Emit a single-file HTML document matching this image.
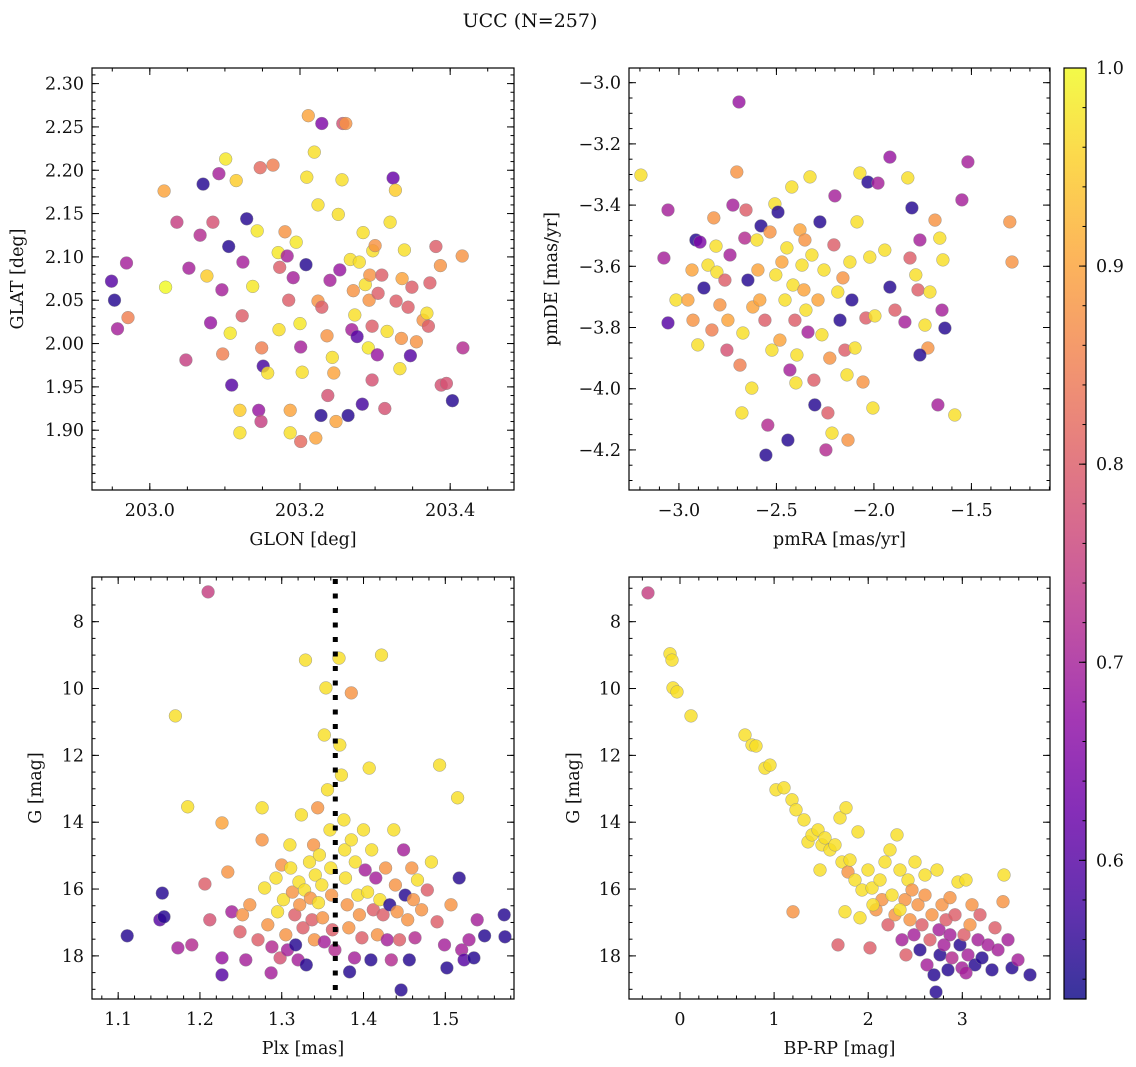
<!DOCTYPE html>
<html><head><meta charset="utf-8">
<style>
html,body{margin:0;padding:0;background:#fff;}
svg{display:block;font-family:"DejaVu Serif","Liberation Serif",serif;}
</style></head>
<body>
<svg id="fig" width="1136" height="1067" viewBox="0 0 1136 1067" xmlns="http://www.w3.org/2000/svg">
<rect width="1136" height="1067" fill="#fff"/>
<text x="530" y="27" font-size="19" text-anchor="middle" fill="#111">UCC (N=257)</text>
</svg>
<script>
// ---- data ----
const glon = [202.949,202.953,202.957,202.971,202.969,203.019,203.021,203.036,203.048,203.052,203.071,203.067,203.076,203.081,203.084,203.092,203.096,203.101,203.097,203.107,203.105,203.109,203.115,203.120,203.120,203.124,203.123,203.129,203.137,203.143,203.147,203.149,203.151,203.145,203.148,203.157,203.164,203.171,203.172,203.173,203.180,203.183,203.185,203.187,203.187,203.191,203.195,203.200,203.201,203.201,203.203,203.208,203.209,203.211,203.219,203.221,203.224,203.224,203.228,203.229,203.229,203.236,203.237,203.240,203.243,203.245,203.248,203.251,203.253,203.256,203.257,203.261,203.264,203.267,203.269,203.271,203.273,203.276,203.279,203.283,203.284,203.287,203.291,203.292,203.293,203.296,203.296,203.297,203.300,203.303,203.304,203.309,203.313,203.316,203.320,203.324,203.327,203.328,203.333,203.335,203.336,203.339,203.344,203.347,203.349,203.355,203.364,203.369,203.371,203.373,203.381,203.387,203.388,203.395,203.403,203.417,203.416];
const glat = [2.072,2.050,2.017,2.030,2.093,2.176,2.065,2.140,1.981,2.087,2.184,2.125,2.078,2.024,2.140,2.196,2.062,2.213,1.988,2.012,2.112,1.952,2.188,1.897,1.923,2.094,2.032,2.144,2.066,2.130,2.203,1.995,1.974,1.923,1.910,1.966,2.206,2.105,2.016,2.088,2.129,2.101,2.050,1.923,1.897,2.076,2.117,2.023,1.996,1.887,1.967,2.091,2.192,2.263,2.221,1.891,2.160,2.049,1.917,2.254,2.042,2.009,1.940,2.073,1.984,1.966,1.910,2.149,2.085,2.189,2.254,2.254,1.917,2.097,2.016,2.061,2.033,2.008,2.094,1.930,2.128,2.068,1.995,2.050,2.079,1.958,2.020,2.107,2.113,1.987,2.058,2.079,1.925,2.014,2.140,2.191,2.177,2.049,1.971,2.006,2.075,2.108,2.042,1.986,2.065,2.002,2.027,2.035,2.020,2.070,2.112,2.090,1.952,1.954,1.934,1.995,2.101];
const prob1 = [.6,.55,.7,.85,.7,.9,1.0,.75,.75,.7,.55,.72,.95,.68,.78,.7,.7,.98,.85,.98,.55,.6,.95,.97,.95,.7,.8,.55,.98,.98,.82,.85,.58,.68,.75,.97,.85,.98,.97,.8,.88,.7,.8,.9,.97,.7,.98,.98,.7,.82,.97,.55,.97,.9,.97,.9,.97,.88,.55,.65,.8,.88,.78,.7,.97,.9,.9,.97,.68,.97,.78,.88,.55,.97,.7,.88,.97,.6,.97,.58,.97,.97,.98,.88,.88,.78,.8,.97,.88,.68,.8,.8,.78,.97,.97,.62,.95,.8,.97,.88,.9,.97,.8,.6,.8,.88,.88,.97,.8,.8,.8,.88,.78,.78,.55,.72,.88];

const pmra = [-3.195,-3.077,-3.056,-3.056,-3.015,-2.954,-2.928,-2.933,-2.913,-2.892,-2.903,-2.872,-2.851,-2.831,-2.821,-2.810,-2.805,-2.790,-2.764,-2.754,-2.749,-2.738,-2.723,-2.703,-2.692,-2.687,-2.677,-2.672,-2.662,-2.656,-2.646,-2.626,-2.621,-2.600,-2.595,-2.585,-2.579,-2.559,-2.544,-2.554,-2.533,-2.523,-2.508,-2.503,-2.492,-2.482,-2.472,-2.456,-2.446,-2.441,-2.431,-2.421,-2.415,-2.405,-2.400,-2.395,-2.379,-2.369,-2.359,-2.354,-2.349,-2.338,-2.328,-2.318,-2.308,-2.303,-2.287,-2.277,-2.267,-2.256,-2.246,-2.236,-2.226,-2.215,-2.205,-2.200,-2.185,-2.174,-2.159,-2.149,-2.138,-2.133,-2.123,-2.113,-2.097,-2.087,-2.072,-2.056,-2.041,-2.031,-2.021,-2.005,-1.995,-1.979,-1.918,-1.944,-1.918,-1.892,-1.841,-1.826,-1.815,-1.805,-1.785,-1.774,-1.764,-1.738,-1.723,-1.713,-1.687,-1.662,-1.646,-1.651,-1.636,-1.764,-1.672,-1.585,-1.549,-1.518,-1.303,-1.292];
const pmde = [-3.302,-3.573,-3.416,-3.785,-3.710,-3.710,-3.776,-3.612,-3.514,-3.521,-3.857,-3.671,-3.596,-3.808,-3.442,-3.534,-3.619,-3.726,-3.645,-3.874,-3.776,-3.563,-3.400,-3.292,-3.063,-3.923,-4.079,-3.818,-3.508,-3.416,-3.645,-3.998,-3.733,-3.514,-3.612,-3.710,-3.468,-3.776,-4.119,-4.217,-3.488,-3.874,-3.396,-3.628,-3.423,-3.841,-3.586,-3.710,-3.540,-4.168,-3.939,-3.341,-3.661,-3.776,-3.981,-3.890,-3.481,-3.596,-3.677,-3.514,-3.743,-3.815,-3.308,-3.563,-3.972,-4.053,-3.710,-3.455,-3.824,-3.612,-4.200,-4.079,-3.900,-4.145,-3.530,-3.370,-3.684,-3.776,-3.638,-3.874,-3.955,-4.168,-3.586,-3.710,-3.867,-3.455,-3.295,-3.978,-3.769,-3.325,-3.570,-4.063,-3.762,-3.328,-3.243,-3.547,-3.668,-3.743,-3.782,-3.311,-3.573,-3.409,-3.628,-3.677,-3.514,-3.792,-3.867,-3.684,-3.449,-3.508,-3.579,-3.743,-3.802,-3.890,-4.053,-4.086,-3.383,-3.259,-3.455,-3.586];
const prob2 = [.97,.7,.7,.6,.97,.9,.88,.9,.55,.65,.97,.55,.97,.85,.88,.97,.97,.88,.8,.78,.9,.7,.7,.88,.68,.85,.97,.97,.72,.8,.55,.97,.9,.97,.9,.9,.55,.8,.72,.55,.88,.97,.97,.97,.55,.9,.9,.97,.97,.55,.7,.97,.97,.8,.97,.97,.9,.97,.9,.88,.97,.7,.97,.97,.8,.55,.9,.55,.97,.97,.72,.8,.88,.97,.8,.7,.97,.55,.88,.8,.97,.88,.97,.55,.97,.97,.97,.88,.8,.55,.97,.97,.97,.7,.68,.97,.55,.8,.7,.97,.8,.55,.97,.8,.7,.97,.88,.97,.88,.97,.97,.7,.55,.55,.7,.97,.7,.7,.88,.88];

const plx = [1.210,1.170,1.185,1.227,1.206,1.154,1.151,1.156,1.111,1.173,1.190,1.212,1.227,1.227,1.234,1.239,1.249,1.252,1.256,1.261,1.271,1.276,1.276,1.279,1.283,1.287,1.288,1.293,1.295,1.298,1.300,1.302,1.305,1.307,1.310,1.311,1.313,1.316,1.317,1.320,1.321,1.322,1.324,1.326,1.328,1.329,1.330,1.334,1.335,1.337,1.339,1.340,1.341,1.344,1.345,1.346,1.349,1.350,1.352,1.352,1.354,1.356,1.359,1.360,1.361,1.362,1.365,1.370,1.371,1.373,1.376,1.377,1.378,1.380,1.382,1.383,1.385,1.385,1.389,1.390,1.393,1.395,1.398,1.400,1.402,1.405,1.407,1.409,1.410,1.412,1.415,1.417,1.420,1.422,1.424,1.427,1.429,1.432,1.434,1.437,1.439,1.441,1.444,1.446,1.449,1.451,1.454,1.456,1.459,1.461,1.463,1.466,1.471,1.478,1.483,1.493,1.490,1.499,1.502,1.507,1.515,1.517,1.520,1.523,1.529,1.539,1.535,1.548,1.572,1.573];
const gmag3 = [7.11,10.82,13.54,14.02,15.85,16.12,16.92,16.83,17.40,17.76,17.67,16.92,18.06,18.57,15.49,16.68,17.28,16.77,18.12,16.47,17.52,13.57,14.53,15.97,17.07,18.51,17.73,15.67,16.68,18.06,15.28,16.32,17.37,17.82,14.68,15.37,16.09,16.77,17.67,18.12,15.79,16.47,13.78,17.16,16.03,9.15,18.27,15.19,16.27,16.92,14.68,17.52,15.58,13.57,16.41,14.98,15.88,16.86,11.39,17.58,9.98,13.03,14.23,15.37,16.18,17.22,17.82,9.09,11.69,12.59,13.93,14.83,15.67,16.47,17.16,18.48,10.13,14.53,18.06,15.19,16.18,16.77,17.46,14.23,15.43,16.09,12.38,18.12,14.83,16.62,15.67,17.37,16.32,9.00,16.77,15.37,17.52,16.47,18.12,14.23,15.88,16.68,17.52,19.02,14.83,16.18,16.92,18.12,15.37,16.32,17.46,15.73,16.62,16.03,15.19,12.29,16.98,17.67,18.36,16.47,13.27,15.67,17.82,18.12,17.52,16.92,18.06,17.40,16.77,17.43];
const prob3 = [.75,.97,.97,.9,.8,.55,.6,.55,.55,.7,.72,.78,.68,.6,.88,.7,.8,.88,.7,.88,.8,.97,.88,.97,.88,.7,.72,.97,.97,.78,.88,.97,.88,.7,.97,.97,.88,.8,.55,.7,.97,.88,.97,.8,.97,.97,.55,.97,.88,.8,.88,.88,.97,.88,.97,.97,.97,.88,.97,.7,.97,.97,.97,.97,.88,.8,.72,.97,.97,.97,.97,.97,.97,.88,.88,.55,.88,.97,.7,.97,.97,.88,.8,.97,.7,.97,.97,.55,.97,.8,.7,.88,.97,.97,.8,.88,.7,.55,.72,.97,.88,.88,.8,.55,.7,.55,.88,.55,.88,.88,.72,.97,.88,.8,.97,.97,.8,.7,.55,.88,.97,.55,.7,.6,.7,.7,.55,.55,.55,.55];
const plxLine = [1.3655];

const bprp = [-0.340,-0.106,-0.085,-0.074,-0.032,0.117,0.691,0.765,0.808,0.903,0.956,1.020,1.105,1.190,1.233,1.318,1.360,1.403,1.467,1.509,1.541,1.594,1.647,1.700,1.722,1.764,1.785,1.807,1.860,1.892,1.934,1.488,1.201,1.753,1.679,2.019,1.998,2.040,2.083,2.125,2.147,2.179,2.210,2.232,2.253,2.285,2.306,2.338,2.359,2.391,2.402,2.423,2.444,2.465,2.487,2.497,2.529,2.550,2.572,2.604,2.625,2.657,2.678,2.699,2.721,2.731,2.752,2.763,2.784,2.806,2.827,2.848,2.869,2.891,2.922,2.954,2.976,2.997,3.018,3.039,3.061,3.082,3.103,3.135,3.167,3.188,3.209,3.273,3.316,3.348,3.379,3.433,3.443,3.486,3.528,3.592,3.719,3.039,2.869,2.604,2.338,1.913,2.051];
const gmag4 = [7.14,8.96,9.15,9.98,10.10,10.82,11.39,11.69,11.72,12.38,12.29,13.03,12.97,13.33,13.63,13.93,14.59,14.38,14.23,14.68,14.47,14.83,14.68,13.87,15.19,13.57,15.49,15.13,15.73,14.29,16.03,15.43,16.68,16.68,17.67,17.76,15.43,15.97,16.62,15.73,16.32,15.19,17.07,14.83,16.18,16.77,14.38,15.43,17.52,16.32,17.97,15.73,16.92,16.03,17.37,15.19,16.47,17.82,17.07,16.18,18.27,17.52,16.77,18.57,19.08,15.43,17.22,17.97,16.47,17.67,16.92,18.42,17.37,18.06,16.77,15.79,17.67,18.36,17.37,15.73,17.97,17.07,16.47,18.27,17.52,16.77,18.06,17.67,18.42,17.16,17.82,16.38,15.58,17.52,18.36,18.12,18.57,18.51,16.26,15.58,16.62,16.86,16.47];
const prob4 = [.75,.97,.97,.97,.97,.97,.97,.97,.97,.97,.97,.97,.97,.97,.97,.97,.97,.97,.97,.97,.97,.97,.97,.97,.97,.97,.88,.97,.97,.97,.97,.97,.88,.97,.8,.8,.97,.97,.88,.97,.88,.97,.8,.97,.97,.88,.97,.97,.7,.88,.8,.97,.88,.88,.7,.97,.88,.55,.8,.88,.7,.8,.88,.55,.55,.97,.7,.55,.88,.7,.8,.55,.7,.72,.8,.97,.55,.7,.8,.97,.7,.88,.88,.55,.7,.8,.55,.7,.55,.8,.7,.88,.97,.7,.55,.7,.55,.7,.88,.97,.97,.97,.97];

const ticks1x = [203.0,203.2,203.4], ticks1y = [1.90,1.95,2.00,2.05,2.10,2.15,2.20,2.25,2.30];
const ticks2x = [-3.0,-2.5,-2.0,-1.5], ticks2y = [-4.2,-4.0,-3.8,-3.6,-3.4,-3.2,-3.0];
const ticks3x = [1.1,1.2,1.3,1.4,1.5], ticksG = [8,10,12,14,16,18];
const ticks4x = [0,1,2,3];
const cbTicks = [0.6,0.7,0.8,0.9,1.0];
const vmin = 0.53, vmax = 1.0;

// ---- drawing ----
const NS = "http://www.w3.org/2000/svg";
const svg = document.getElementById('fig');
const FS = 17.5;
function mk(tag, attrs, parent){
  const e = document.createElementNS(NS, tag);
  for (const k in attrs) e.setAttribute(k, attrs[k]);
  (parent||svg).appendChild(e); return e;
}
const plasma = ["#0d0887","#41049d","#6a00a8","#8f0da4","#b12a90","#cc4778","#e16462","#f2844b","#fca636","#fcce25","#f0f921"];
function hex(h){return [parseInt(h.slice(1,3),16),parseInt(h.slice(3,5),16),parseInt(h.slice(5,7),16)];}
function cmap(v){
  let t = (v - vmin)/(vmax - vmin); t = Math.max(0, Math.min(1, t));
  const f = t*10, i = Math.min(9, Math.floor(f)), r = f - i;
  const a = hex(plasma[i]), b = hex(plasma[i+1]);
  return `rgb(${a.map((c,j)=>Math.round(c+(b[j]-c)*r)).join(',')})`;
}
function fmt(v, d){ const s = v.toFixed(d); return s.replace('-', '\u2212'); }
function minorRange(lo, hi, step){ const out=[]; const s=Math.ceil(lo/step-1e-9); for(let k=s;k*step<=hi+1e-9;k++) out.push(k*step); return out; }

function panel(name, box, xr, yr, invertY, xt, yt, xdec, ydec, xminor, yminor, xlabel, ylabel, ylabelX, xs, ys, ps){
  const [L,T,R,B] = box;
  const sx = v => L + (v - xr[0])/(xr[1]-xr[0])*(R-L);
  const sy = invertY ? (v => T + (v - yr[0])/(yr[1]-yr[0])*(B-T)) : (v => B - (v - yr[0])/(yr[1]-yr[0])*(B-T));
  const g = mk('g', {});
  
  
  const clipId = name + '-clip';
  const cp = mk('clipPath', {id: clipId}, g);
  mk('rect', {x:L, y:T, width:R-L, height:B-T}, cp);
  const pts = mk('g', {'clip-path': `url(#${clipId})`}, g);
  
  
  for (let i = 0; i < xs.length; i++) {
    const c = mk('circle', {cx: sx(xs[i]).toFixed(1), cy: sy(ys[i]).toFixed(1), r: 6.4, fill: cmap(ps[i]), 'fill-opacity': 0.82, stroke: '#8a8a8a', 'stroke-width': 0.5, 'stroke-opacity':0.8}, pts);
    
    
  }
  const tk = mk('g', {stroke:'#000', 'stroke-width':1}, g);
  xminor.forEach(v => { const x = sx(v); if (x<L||x>R) return;
    mk('line',{x1:x,x2:x,y1:B,y2:B-3.5},tk); mk('line',{x1:x,x2:x,y1:T,y2:T+3.5},tk); });
  yminor.forEach(v => { const y = sy(v); if (y<T||y>B) return;
    mk('line',{x1:L,x2:L+3.5,y1:y,y2:y},tk); mk('line',{x1:R,x2:R-3.5,y1:y,y2:y},tk); });
  xt.forEach(v => { const x = sx(v);
    mk('line',{x1:x,x2:x,y1:B,y2:B-7},tk); mk('line',{x1:x,x2:x,y1:T,y2:T+7},tk);
    const t = mk('text',{x:x, y:B+26, 'font-size':FS, 'text-anchor':'middle', fill:'#111'}, g);
    t.textContent = fmt(v, xdec);
    
    
  });
  yt.forEach(v => { const y = sy(v);
    mk('line',{x1:L,x2:L+7,y1:y,y2:y},tk); mk('line',{x1:R,x2:R-7,y1:y,y2:y},tk);
    const t = mk('text',{x:L-8, y:y+6, 'font-size':FS, 'text-anchor':'end', fill:'#111'}, g);
    t.textContent = fmt(v, ydec);
    
    
  });
  const fr = mk('rect',{x:L, y:T, width:R-L, height:B-T, fill:'none', stroke:'#000', 'stroke-width':1.2}, g);
  
  
  const xl = mk('text',{x:(L+R)/2, y:B+55, 'font-size':FS, 'text-anchor':'middle', fill:'#111'}, g);
  xl.textContent = xlabel;
  
  
  const yl = mk('text',{x:0, y:0, 'font-size':FS, 'text-anchor':'middle', fill:'#111', transform:`translate(${ylabelX},${(T+B)/2}) rotate(-90)`}, g);
  yl.textContent = ylabel;
  
  
  return {sx, sy, g, T, B};
}

panel('panel-glon-glat', [92,68,514,490], [202.923,203.485], [1.831,2.318], false,
  ticks1x, ticks1y, 1, 2, minorRange(202.9,203.5,0.05), minorRange(1.83,2.32,0.01),
  'GLON [deg]', 'GLAT [deg]', 23, glon, glat, prob1);
panel('panel-pm', [629,68,1050,490], [-3.256,-1.097], [-4.331,-2.952], false,
  ticks2x, ticks2y, 1, 1, minorRange(-3.3,-1.0,0.1), minorRange(-4.35,-2.95,0.05),
  'pmRA [mas/yr]', 'pmDE [mas/yr]', 557, pmra, pmde, prob2);
const p3 = panel('panel-plx-g', [92,577,514,999], [1.068,1.584], [6.663,19.29], true,
  ticks3x, ticksG, 1, 0, minorRange(1.06,1.6,0.02), minorRange(6.5,19.5,0.5),
  'Plx [mas]', 'G [mag]', 41, plx, gmag3, prob3);
const ln = mk('line',{x1:p3.sx(plxLine[0]), x2:p3.sx(plxLine[0]), y1:p3.T+2, y2:p3.B, stroke:'#000', 'stroke-width':5, 'stroke-dasharray':'5,9.5'}, p3.g);


panel('panel-cmd', [629,577,1050,999], [-0.542,3.932], [6.663,19.29], true,
  ticks4x, ticksG, 0, 0, minorRange(-0.6,4.0,0.2), minorRange(6.5,19.5,0.5),
  'BP-RP [mag]', 'G [mag]', 579, bprp, gmag4, prob4);

// ---- colorbar ----
const cb = mk('g', {});


const CL=1064, CR=1086, CT=68, CB=999;
const defs = mk('defs', {}, cb);
const grad = mk('linearGradient', {id:'cbgrad', x1:0, y1:1, x2:0, y2:0}, defs);
for (let k = 0; k <= 20; k++) {
  const v = vmin + (vmax-vmin)*k/20;
  mk('stop', {offset: (k/20).toFixed(3), 'stop-color': cmap(v), 'stop-opacity':0.82}, grad);
}
mk('rect', {x:CL, y:CT, width:CR-CL, height:CB-CT, fill:'url(#cbgrad)', stroke:'#000', 'stroke-width':1.2}, cb);
const cy = v => CB - (v - vmin)/(vmax - vmin)*(CB-CT);
minorRange(vmin, vmax, 0.02).forEach(v => mk('line',{x1:CR, x2:CR-3.5, y1:cy(v), y2:cy(v), stroke:'#000'}, cb));
cbTicks.forEach(v => {
  mk('line',{x1:CR, x2:CR-7, y1:cy(v), y2:cy(v), stroke:'#000'}, cb);
  const t = mk('text',{x:CR+10, y:cy(v)+6, 'font-size':FS, fill:'#111'}, cb);
  t.textContent = v.toFixed(1);
  
  
});
</script>
</body></html>
